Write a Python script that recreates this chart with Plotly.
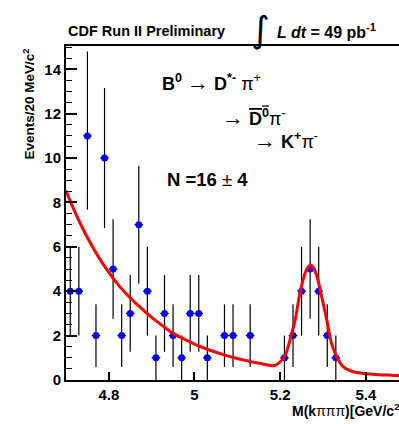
import plotly.graph_objects as go

# ---- data ----
bin_centers = [4.71, 4.73, 4.75, 4.77, 4.79, 4.81, 4.83, 4.85, 4.87, 4.89, 4.91, 4.93, 4.95, 4.97,
               4.99, 5.01, 5.03, 5.07, 5.09, 5.13, 5.21, 5.23, 5.25, 5.27, 5.29, 5.31, 5.33]
counts = [4, 4, 11, 2, 10, 5, 2, 3, 7, 4, 1, 3, 2, 1, 3, 3, 1, 2, 2, 2, 1, 2, 4, 5, 4, 2, 1]
err_up = [2.0, 2.0, 3.8, 1.41, 3.16, 2.24, 1.41, 1.73, 2.65, 2.0, 1.0, 1.73, 1.41, 1.0,
          1.73, 1.73, 1.0, 1.41, 1.41, 1.41, 1.0, 1.41, 2.0, 2.24, 2.0, 1.41, 1.0]
err_dn = [2.0, 2.0, 3.32, 1.41, 3.16, 2.24, 1.41, 1.73, 2.65, 2.0, 1.0, 1.73, 1.41, 1.0,
          1.73, 1.73, 1.0, 1.41, 1.41, 1.41, 1.0, 1.41, 2.0, 2.24, 2.0, 1.41, 1.0]
bin_half_width = 0.01

fit_m = [4.70, 4.725, 4.75, 4.775, 4.80, 4.825, 4.85, 4.875, 4.90, 4.925, 4.95, 4.975, 5.00,
         5.025, 5.05, 5.075, 5.10, 5.125, 5.15, 5.17, 5.185, 5.196, 5.2075, 5.215, 5.225,
         5.235, 5.246, 5.258, 5.264, 5.2713, 5.278, 5.285, 5.297, 5.309, 5.320, 5.332,
         5.347, 5.371, 5.41, 5.45, 5.4775]
fit_v = [8.53, 7.40, 6.42, 5.57, 4.85, 4.22, 3.70, 3.25, 2.82, 2.45, 2.10, 1.85, 1.62,
         1.42, 1.25, 1.10, 0.97, 0.86, 0.76, 0.68, 0.64, 0.75, 0.98, 1.27, 1.95,
         2.70, 3.90, 4.80, 5.05, 5.18, 5.05, 4.73, 3.75, 2.70, 1.65, 1.05,
         0.60, 0.37, 0.27, 0.22, 0.19]

x_ticks = [4.8, 5.0, 5.2, 5.4]
x_ticktext = ["4.8", "5", "5.2", "5.4"]
y_ticks = [0, 2, 4, 6, 8, 10, 12, 14]

FONT = "Liberation Sans, Arial, sans-serif"
ARROW = "<span style='font-size:22px'>→</span>"

fig = go.Figure()
fig.add_trace(go.Scatter(
    x=bin_centers, y=counts, mode="markers",
    marker=dict(symbol="circle", size=7, color="#0000ff"),
    error_y=dict(type="data", symmetric=False, array=err_up, arrayminus=err_dn,
                 color="black", thickness=1.2, width=0),
    error_x=dict(type="constant", value=bin_half_width, color="black", thickness=1.2, width=0),
    showlegend=False,
))
fig.add_trace(go.Scatter(
    x=fit_m, y=fit_v, mode="lines",
    line=dict(color="#ff0000", width=3, shape="spline", smoothing=1.0),
    showlegend=False,
))

fig.update_layout(
    width=399, height=424,
    margin=dict(l=66, r=0, t=46, b=44, autoexpand=False),
    paper_bgcolor="white", plot_bgcolor="white",
    font=dict(family=FONT, size=15, color="black"),
    xaxis=dict(range=[4.70, 5.4775], tickvals=x_ticks, ticktext=x_ticktext,
               ticks="inside", ticklen=8, tickwidth=1.5, tickcolor="black",
               showline=True, linecolor="black", linewidth=2, mirror=True,
               showgrid=False, zeroline=False,
               tickfont=dict(family=FONT, size=15, color="black", weight="bold")),
    yaxis=dict(range=[0, 15.05], tickvals=y_ticks,
               ticks="inside", ticklen=11, tickwidth=1.5, tickcolor="black",
               minor=dict(dtick=0.5, ticks="inside", ticklen=6, tickwidth=1.2, tickcolor="black"),
               showline=True, linecolor="black", linewidth=2,
               showgrid=False, zeroline=False,
               tickfont=dict(family=FONT, size=15, color="black", weight="bold")),
)

ann = []
# header texts
ann.append(dict(xref="paper", yref="paper", x=0.0, y=1.045, xanchor="left", yanchor="middle",
                text="<b>CDF Run II Preliminary</b>", showarrow=False,
                font=dict(family=FONT, size=14.5)))
ann.append(dict(xref="paper", yref="paper", x=0.583, y=1.05, xanchor="center", yanchor="middle",
                text="∫", showarrow=False, font=dict(family="DejaVu Sans", size=36)))
ann.append(dict(xref="paper", yref="paper", x=0.628, y=1.045, xanchor="left", yanchor="middle",
                text="<b><i>L dt</i> = 49 pb<sup>-1</sup></b>", showarrow=False,
                font=dict(family=FONT, size=16)))
# decay formula
ann.append(dict(x=4.9195, y=13.39, xanchor="left", yanchor="middle", showarrow=False,
                text="<b>B<sup>0</sup></b> " + ARROW + " <b>D<sup>*-</sup></b> π<sup>+</sup>",
                font=dict(family=FONT, size=18)))
ann.append(dict(x=5.0596, y=11.85, xanchor="left", yanchor="middle", showarrow=False,
                text=ARROW + " <span style='text-decoration:overline'><b>D<sup>0</sup></b></span>π<sup>-</sup>",
                font=dict(family=FONT, size=18)))
ann.append(dict(x=5.1336, y=10.81, xanchor="left", yanchor="middle", showarrow=False,
                text=ARROW + " <b>K<sup>+</sup></b>π<sup>-</sup>",
                font=dict(family=FONT, size=18)))
ann.append(dict(x=4.931, y=9.05, xanchor="left", yanchor="middle", showarrow=False,
                text="<b>N =16</b> ± <b>4</b>",
                font=dict(family=FONT, size=18.5)))
# axis titles
ann.append(dict(xref="paper", yref="paper", x=-0.114, y=0.997, xanchor="center", yanchor="top",
                textangle=-90, showarrow=False,
                text="<b>Events/20 MeV/c<sup>2</sup></b>", font=dict(family=FONT, size=13.5)))
ann.append(dict(xref="paper", yref="paper", x=0.673, y=-0.09, xanchor="left", yanchor="middle",
                showarrow=False,
                text="<b>M(k</b>πππ<b>)[GeV/c<sup>2</sup>]</b>", font=dict(family=FONT, size=14)))
fig.update_layout(annotations=ann)

fig.write_html("out.html", config={"displayModeBar": False},
               post_script="document.body.style.margin='0';document.body.style.overflow='hidden';")
